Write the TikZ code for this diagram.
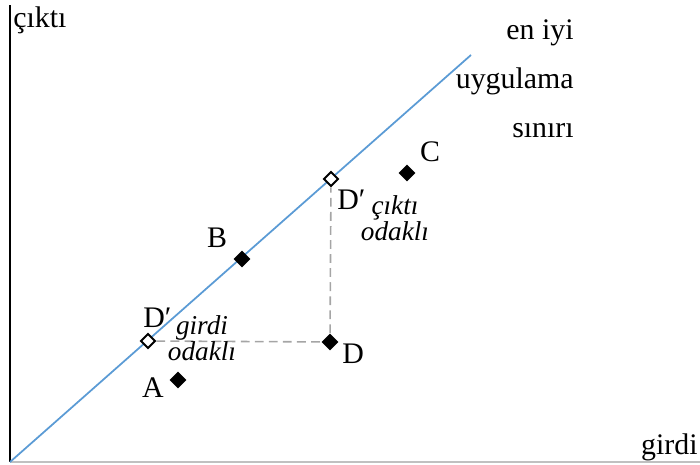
\documentclass[tikz,border=0pt]{standalone}
\usepackage{fontspec}
\setmainfont{Liberation Serif}
\usetikzlibrary{shapes.geometric}
\definecolor{frontier}{RGB}{91,155,213}
\definecolor{guide}{RGB}{165,165,165}
\tikzset{
  unit/.style={diamond, fill=black, inner sep=0pt, minimum size=0.34cm},
  proj/.style={diamond, draw=black, fill=white, line width=1.1pt, inner sep=0pt, minimum size=0.3cm},
  lbl/.style={font=\fontsize{17}{18}\selectfont, inner sep=0pt},
  focus/.style={font=\itshape\fontsize{15.5}{13.4}\selectfont, inner sep=0pt, align=center}
}
\begin{document}
\begin{tikzpicture}[x=0.02cm, y=-0.02cm]
  \useasboundingbox (0,0) rectangle (700,465);
  % axes
  \coordinate (o) at (10,462);
  \coordinate (ytop) at (10,5);
  \coordinate (xend) at (700,462);
  \coordinate (ftop) at (471,55);
  \draw[guide!70, line width=1pt] (o) -- (xend);
  \draw[black, line width=1pt] (o) -- (ytop);
  \node[lbl, anchor=base west] (ylab) at (13,28) {çıktı};
  \node[lbl, anchor=base east] (xlab) at (698,455) {girdi};
  % frontier
  \draw[frontier, line width=1pt] (o) -- (ftop);
  \node[lbl, anchor=base east] (f1) at (574,40) {en iyi};
  \node[lbl, anchor=base east] (f2) at (574,89) {uygulama};
  \node[lbl, anchor=base east] (f3) at (574,138) {sınırı};
  % units
  \node[unit] (a) at (178,380) {};
  \node[unit] (b) at (242,259) {};
  \node[unit] (c) at (407,173) {};
  \node[unit] (d) at (330,342) {};
  \node[proj] (din) at (148,341) {};
  \node[proj] (dout) at (331,179) {};
  \draw[guide, dashed, line width=0.9pt, dash pattern=on 5pt off 3pt] (din) -- (d);
  \draw[guide, dashed, line width=0.9pt, dash pattern=on 5pt off 3pt] (d) -- (dout);
  % labels
  \node[lbl, anchor=base] (alab) at (153,398) {A};
  \node[lbl, anchor=base] (blab) at (217,248) {B};
  \node[lbl, anchor=base] (clab) at (430,162) {C};
  \node[lbl, anchor=base west] (dlab) at (342,364) {D};
  \node[lbl, anchor=base west] (dinlab) at (143,328) {D\symbol{"2032}};
  \node[lbl, anchor=base west] (doutlab) at (337,210) {D\symbol{"2032}};
  \node[focus] (gfocus) at (202,338) {girdi\\odaklı};
  \node[focus] (ofocus) at (395,218) {çıktı\\odaklı};
\end{tikzpicture}
\end{document}
